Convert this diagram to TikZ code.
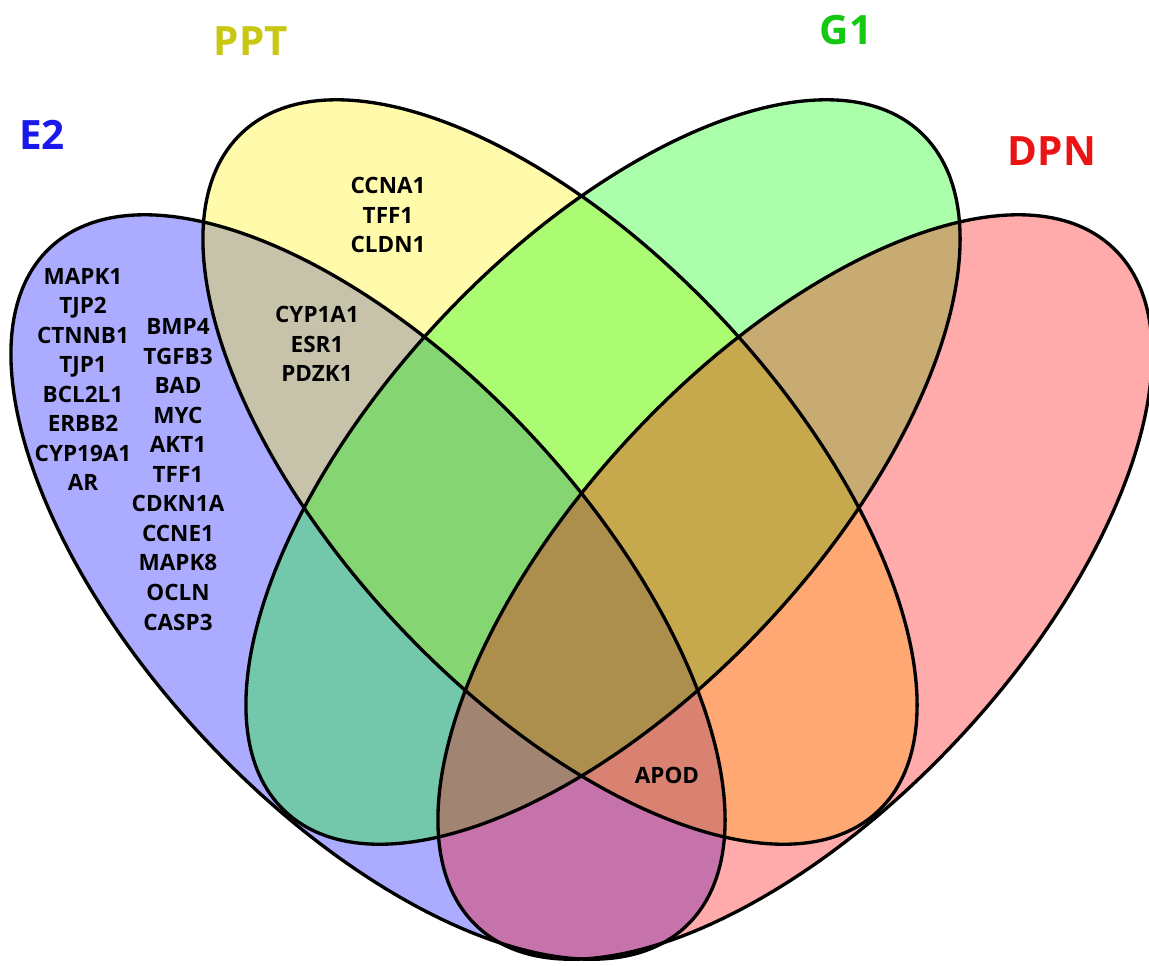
\documentclass[tikz,border=0pt]{standalone}
\usepackage{fontspec}
\setmainfont{Open Sans}
\definecolor{lblE}{RGB}{25,25,235}
\definecolor{lblP}{RGB}{200,200,20}
\definecolor{lblG}{RGB}{20,200,20}
\definecolor{lblD}{RGB}{235,20,20}
\begin{document}
\begin{tikzpicture}[x=0.02cm,y=-0.02cm,
  setfill/.style={fill=#1, fill opacity=0.33},
  outline/.style={draw=black, line width=1.9pt},
  gene/.style={font=\fontsize{12.8}{16.8}\selectfont\bfseries, align=center, inner sep=0pt, text=black},
  setlabel/.style={font=\fontsize{23}{26}\selectfont\bfseries, inner sep=0pt}]
\useasboundingbox (0,0) rectangle (1149,965);
\def\A{46.9}
% fills
\path[setfill=blue,   rotate around={-\A:(368,587)}] (368,587) ellipse [x radius=465, y radius=223];
\path[setfill=yellow, rotate around={-\A:(560,472)}] (560,472) ellipse [x radius=465, y radius=223];
\path[setfill=green,  rotate around={\A:(603,472)}]  (603,472) ellipse [x radius=465, y radius=223];
\path[setfill=red,    rotate around={\A:(795,587)}]  (795,587) ellipse [x radius=465, y radius=223];
% outlines
\path[outline, rotate around={-\A:(368,587)}] (368,587) ellipse [x radius=465, y radius=223];
\path[outline, rotate around={-\A:(560,472)}] (560,472) ellipse [x radius=465, y radius=223];
\path[outline, rotate around={\A:(603,472)}]  (603,472) ellipse [x radius=465, y radius=223];
\path[outline, rotate around={\A:(795,587)}]  (795,587) ellipse [x radius=465, y radius=223];
% set labels
\node[setlabel, text=lblE] (lE) at (42,135) {E2};
\node[setlabel, text=lblP] (lP) at (251,41) {PPT};
\node[setlabel, text=lblG] (lG) at (846,30) {G1};
\node[setlabel, text=lblD] (lD) at (1052,151) {DPN};
% genes
\node[gene] (e2a) at (83,379.5) {MAPK1\\TJP2\\CTNNB1\\TJP1\\BCL2L1\\ERBB2\\CYP19A1\\AR};
\node[gene] (e2b) at (178,474.5) {BMP4\\TGFB3\\BAD\\MYC\\AKT1\\TFF1\\CDKN1A\\CCNE1\\MAPK8\\OCLN\\CASP3};
\node[gene] (ppt) at (388,215) {CCNA1\\TFF1\\CLDN1};
\node[gene] (ep) at (317,344) {CYP1A1\\ESR1\\PDZK1};
\node[gene] (apod) at (667,775) {APOD};
\end{tikzpicture}
\end{document}
